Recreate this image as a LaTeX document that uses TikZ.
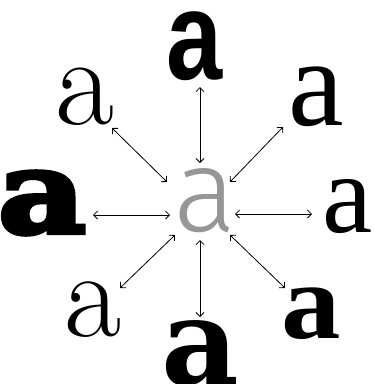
\documentclass[tikz,border=0pt]{standalone}
\usepackage{fontspec}
\usetikzlibrary{arrows.meta}
\newfontfamily\fTop[FakeStretch=0.8]{Liberation Sans}
\newfontfamily\fLS{Liberation Serif}
\newfontfamily\fDS{DejaVu Serif}
\newfontfamily\fFat[FakeBold=4]{DejaVu Serif}
\newfontfamily\fLight{Fira Sans Light}
\definecolor{cgray}{RGB}{150,150,150}
\tikzset{
  glyph/.style={inner sep=0pt, outer sep=0pt, anchor=center},
  link/.style={draw=black, line width=0.8pt, {Straight Barb[length=4pt,width=8pt]}-{Straight Barb[length=4pt,width=8pt]}},
}
\newcommand{\fsz}[1]{\fontsize{#1}{#1}\selectfont}
\begin{document}
\begin{tikzpicture}[x=1pt,y=-1pt]
\useasboundingbox (0,0) rectangle (374,384);
% glyphs
\node[glyph, text=cgray, font=\fLight\fsz{118}] (c) at (205,201) {a};
\node[glyph, font=\fTop\bfseries\fsz{126}] (t) at (195,46) {a};
\node[glyph, font=\rmfamily\fsz{128}] (tl) at (85,97) {a};
\node[glyph, font=\fLS\fsz{125}] (tr) at (316,97) {a};
\node[glyph, font=\fFat\bfseries\fsz{115}] (l) at (42,203) {\scalebox{1.18}[1]{a}};
\node[glyph, font=\fLS\fsz{113}] (r) at (348,207) {a};
\node[glyph, font=\rmfamily\fsz{124}] (bl) at (93,310) {a};
\node[glyph, font=\fDS\bfseries\fsz{120}] (b) at (200,353) {a};
\node[glyph, font=\fLS\bfseries\fsz{108}] (br) at (311,314) {\scalebox{1.1}[1]{a}};
% arrow ends
\coordinate (t1) at (200,87);   \coordinate (t2) at (200,163);
\coordinate (tl1) at (112,128); \coordinate (tl2) at (167,182);
\coordinate (tr1) at (283,127); \coordinate (tr2) at (230,182);
\coordinate (l1) at (93,215);   \coordinate (l2) at (170,215);
\coordinate (r1) at (312,214);  \coordinate (r2) at (235,214);
\coordinate (bl1) at (120,288); \coordinate (bl2) at (175,235);
\coordinate (b1) at (200,317);  \coordinate (b2) at (200,240);
\coordinate (br1) at (285,288); \coordinate (br2) at (230,235);
\draw[link] (t1) -- (t2);
\draw[link] (tl1) -- (tl2);
\draw[link] (tr1) -- (tr2);
\draw[link] (l1) -- (l2);
\draw[link] (r1) -- (r2);
\draw[link] (bl1) -- (bl2);
\draw[link] (b1) -- (b2);
\draw[link] (br1) -- (br2);
\end{tikzpicture}
\end{document}
